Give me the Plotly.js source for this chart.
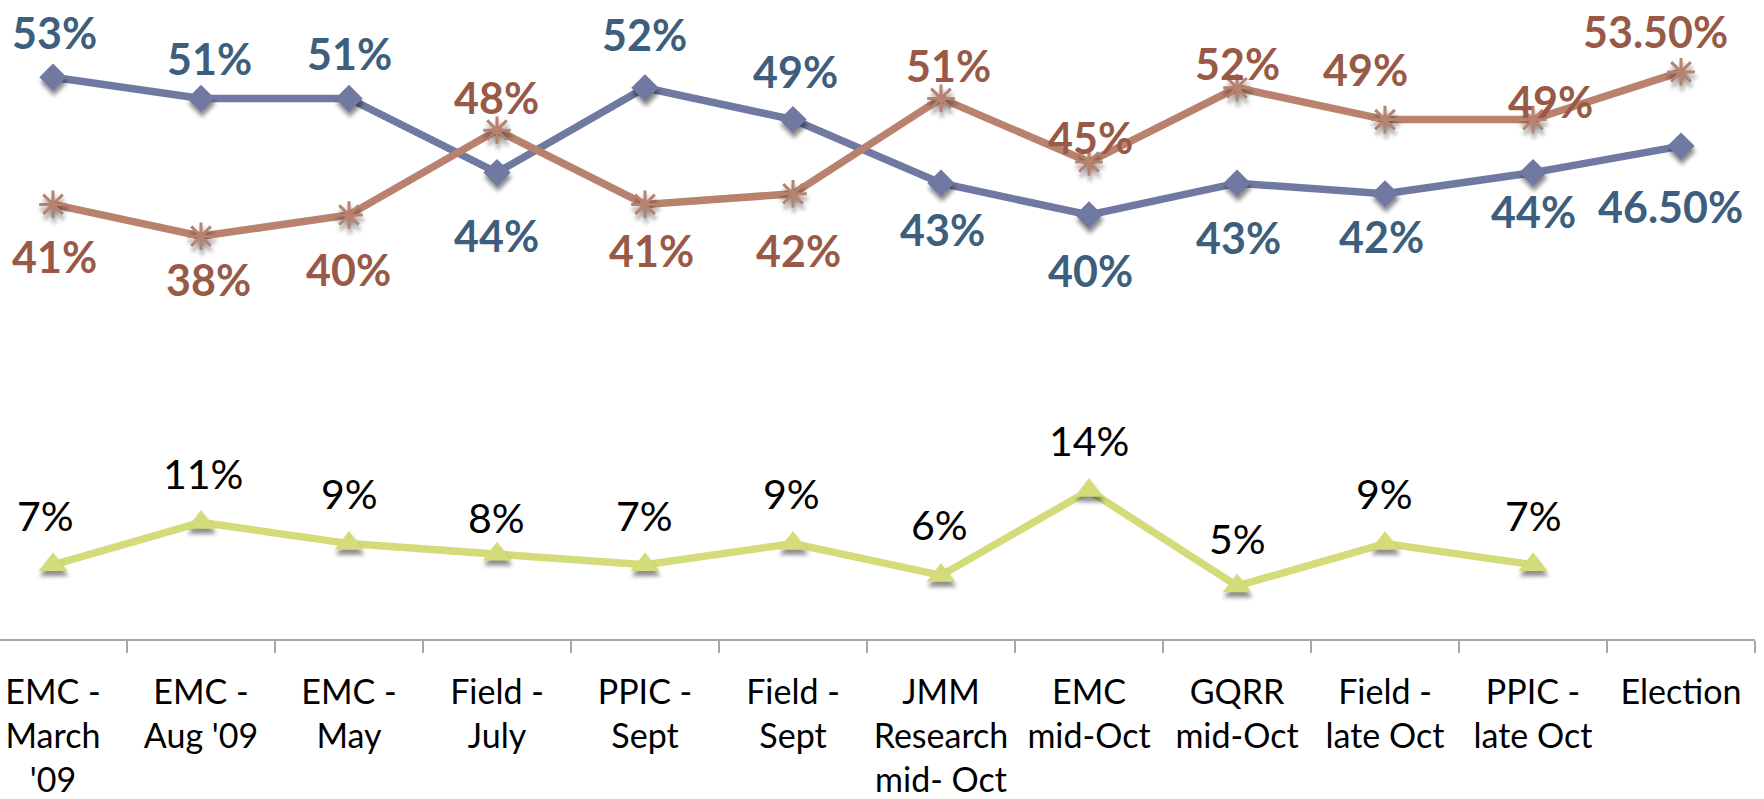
<!DOCTYPE html>
<html>
<head>
<meta charset="utf-8">
<script src="https://cdn.plot.ly/plotly-3.0.1.min.js"></script>
<style>
  html, body { margin: 0; padding: 0; background: #ffffff; }
  #chart { width: 1764px; height: 799px; }
  .scatterlayer .trace .points path { filter: drop-shadow(1px 5px 2px rgba(0,0,0,0.45)); }
</style>
</head>
<body>
<div id="chart"></div>
<script>
// ---- data ----
var categories = [
  "EMC -<br>March<br>'09", "EMC -<br>Aug '09", "EMC -<br>May", "Field -<br>July",
  "PPIC -<br>Sept", "Field -<br>Sept", "JMM<br>Research<br>mid- Oct", "EMC<br>mid-Oct",
  "GQRR<br>mid-Oct", "Field -<br>late Oct", "PPIC -<br>late Oct", "Election"
];
var blueValues   = [53, 51, 51, 44, 52, 49, 43, 40, 43, 42, 44, 46.5];
var orangeValues = [41, 38, 40, 48, 41, 42, 51, 45, 52, 49, 49, 53.5];
var greenValues  = [7, 11, 9, 8, 7, 9, 6, 14, 5, 9, 7];
var blueLabels   = ["53%","51%","51%","44%","52%","49%","43%","40%","43%","42%","44%","46.50%"];
var orangeLabels = ["41%","38%","40%","48%","41%","42%","51%","45%","52%","49%","49%","53.50%"];
var greenLabels  = ["7%","11%","9%","8%","7%","9%","6%","14%","5%","9%","7%"];

// ---- label placement (pixel offsets from each point) ----
var blueDX   = [2, 9, 1, 0, 0, 3, 2, 2, 1, -4, 0, -11];
var blueDY   = [-45, -40, -45, 63, -53, -48, 46, 55, 54, 43, 39, 60];
var orangeDX = [2, 8, 0, 0, 7, 6, 8, 2, 0, -20, 17, -26];
var orangeDY = [52, 43, 54, -33, 46, 57, -33, -25, -24, -50, -18, -40];
var greenDX  = [-7, 2, 1, 0, 0, -1, -1, 0, 0, -1, 0];
var greenDY  = [-49, -49, -50, -37, -49, -50, -51, -50, -48, -50, -49];

var FONT = "Lato, 'Open Sans', sans-serif";
var blueLine = "#7079a1", blueText = "#3d5e7c";
var orangeLine = "#b8826e", orangeText = "#985a46";
var greenLine = "#d4dc7a";

var traces = [
  { type: "scatter", mode: "lines+markers", x: categories, y: blueValues,
    line: { color: blueLine, width: 7.5 },
    marker: { symbol: "diamond", size: 21, color: blueLine },
    cliponaxis: false, hoverinfo: "skip" },
  { type: "scatter", mode: "lines+markers", x: categories, y: orangeValues,
    line: { color: orangeLine, width: 7.5 },
    marker: { symbol: "asterisk-open", size: 23, color: orangeLine, line: { color: orangeLine, width: 3 } },
    cliponaxis: false, hoverinfo: "skip" },
  { type: "scatter", mode: "lines+markers", x: categories.slice(0, greenValues.length), y: greenValues,
    line: { color: greenLine, width: 7.5 },
    marker: { symbol: "triangle-up", size: 25, color: greenLine },
    cliponaxis: false, hoverinfo: "skip" }
];

var annotations = [];
function addLabels(vals, labels, dx, dy, color, bold) {
  for (var i = 0; i < vals.length; i++) {
    annotations.push({
      x: categories[i], y: vals[i], xref: "x", yref: "y",
      text: labels[i], showarrow: false,
      xanchor: "center", yanchor: "middle",
      xshift: dx[i], yshift: -dy[i],
      font: { family: FONT, size: bold ? 43 : 41, color: color, weight: bold ? 700 : 400 }
    });
  }
}
addLabels(blueValues, blueLabels, blueDX, blueDY, blueText, true);
addLabels(orangeValues, orangeLabels, orangeDX, orangeDY, orangeText, true);
addLabels(greenValues, greenLabels, greenDX, greenDY, "#000000", false);

var layout = {
  width: 1764, height: 799,
  margin: { l: 0, r: 9, t: 10, b: 160 },
  paper_bgcolor: "#ffffff", plot_bgcolor: "#ffffff",
  showlegend: false,
  xaxis: {
    type: "category", range: [-0.358, 11.5],
    showline: true, linecolor: "#a6a6a6", linewidth: 2,
    ticks: "outside", tickson: "boundaries", ticklen: 12, tickcolor: "#a6a6a6", tickwidth: 2,
    showgrid: false, zeroline: false,
    tickfont: { family: FONT, size: 34, color: "#000000" },
    ticklabelstandoff: 22,
    fixedrange: true
  },
  yaxis: {
    range: [0, 59.34], visible: false, showgrid: false, zeroline: false, fixedrange: true
  },
  annotations: annotations
};

Plotly.newPlot("chart", traces, layout, { displayModeBar: false, staticPlot: true });
</script>
</body>
</html>
